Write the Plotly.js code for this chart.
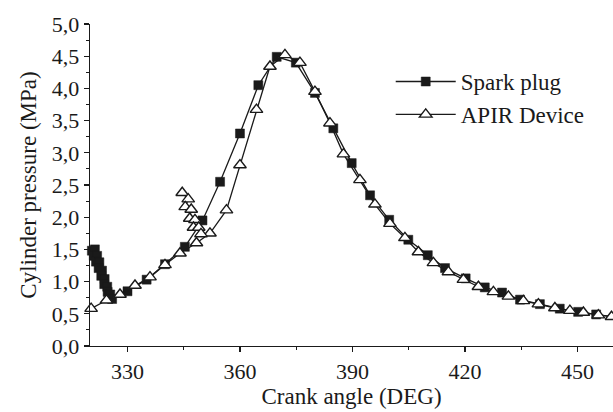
<!DOCTYPE html>
<html><head><meta charset="utf-8">
<script src="https://cdn.plot.ly/plotly-3.0.1.min.js"></script>
<style>html,body{margin:0;padding:0;background:#fff}</style>
</head><body><div id="chart" style="width:613px;height:412px"></div>
<script>
// Crank angle (deg) and cylinder pressure (MPa)
const sparkAngle = [320.5, 321.3, 321.0, 321.9, 321.6, 322.5, 322.3, 323.2, 323.0, 323.9, 323.8,
  324.6, 324.7, 325.4, 325.9,
  330, 335.1, 340, 345.3, 350, 354.7, 360, 364.9, 369.8, 374.9, 380, 384.9, 389.8,
  394.7, 399.8, 404.9, 410.1, 414.7, 420.2, 425.3, 429.9, 434.7, 440, 445.3, 450.2, 455, 459.8];
const sparkPressure = [1.48, 1.50, 1.40, 1.40, 1.31, 1.30, 1.21, 1.17, 1.09, 1.04, 0.96,
  0.92, 0.84, 0.80, 0.73,
  0.85, 1.03, 1.27, 1.54, 1.95, 2.55, 3.30, 4.05, 4.49, 4.40, 3.93, 3.38, 2.84,
  2.34, 1.96, 1.65, 1.41, 1.21, 1.05, 0.91, 0.83, 0.72, 0.65, 0.58, 0.53, 0.49, 0.45];

const apirAngle = [320.3, 324.4, 328.0, 332, 336, 340, 344,
  348.4, 352, 356.4, 360, 364.4, 368, 372, 376, 380, 384, 387.6, 392, 396, 400,
  404, 407.6, 411.6, 415.6, 419.6, 423.6, 427.6, 431.6, 435.6, 439.6, 444, 448,
  451.6, 455.6, 459.1];
const apirPressure = [0.58, 0.71, 0.80, 0.94, 1.07, 1.26, 1.44,
  1.60, 1.75, 2.11, 2.81, 3.67, 4.34, 4.52, 4.40, 3.95, 3.46, 2.98, 2.58, 2.20, 1.90,
  1.68, 1.46, 1.29, 1.15, 1.03, 0.92, 0.84, 0.77, 0.70, 0.65, 0.59, 0.55,
  0.52, 0.48, 0.455];

// APIR ignition disturbance near 345-350 deg
const apirSpikeAngle = [344.6, 346.2, 345.4, 347.0, 346.6, 348.0, 347.6, 349.0, 349.6];
const apirSpikePressure = [2.38, 2.28, 2.16, 2.12, 1.98, 1.96, 1.84, 1.84, 1.74];

const seriesNames = ['Spark plug', 'APIR Device'];
const xTitle = 'Crank angle (DEG)';
const yTitle = 'Cylinder pressure (MPa)';

const ink = '#1a1a1a';
const fontFam = '"Liberation Serif", "Times New Roman", serif';

const triMarker = {symbol: 'triangle-up', size: 11, color: '#ffffff', line: {color: ink, width: 1.4}};

const traces = [
  {
    x: sparkAngle, y: sparkPressure, name: seriesNames[0],
    type: 'scatter', mode: 'lines+markers', cliponaxis: false,
    line: {color: ink, width: 1.3},
    marker: {symbol: 'square', size: 9, color: ink, line: {color: ink, width: 0.5}}
  },
  {
    x: apirAngle, y: apirPressure, name: seriesNames[1],
    type: 'scatter', mode: 'lines+markers', cliponaxis: false,
    line: {color: ink, width: 1.3},
    marker: triMarker
  },
  {
    x: apirSpikeAngle, y: apirSpikePressure, name: seriesNames[1],
    type: 'scatter', mode: 'lines+markers', cliponaxis: false, showlegend: false,
    line: {color: ink, width: 1.3},
    marker: triMarker
  }
];

const layout = {
  width: 613, height: 412,
  margin: {l: 90, r: 0, t: 24, b: 66},
  paper_bgcolor: '#ffffff', plot_bgcolor: '#ffffff',
  separators: ', ',
  font: {family: fontFam, size: 22, color: ink},
  showlegend: true,
  legend: {
    x: 0.575, y: 0.888, xanchor: 'left', yanchor: 'top',
    bgcolor: 'rgba(0,0,0,0)', borderwidth: 0,
    font: {family: fontFam, size: 23, color: ink},
    itemwidth: 60, tracegroupgap: 0
  },
  xaxis: {
    range: [320, 459.5], showgrid: false, zeroline: false,
    showline: true, linecolor: ink, linewidth: 1.3, mirror: false,
    ticks: 'outside', ticklen: 5, tickwidth: 1.3, tickcolor: ink,
    tick0: 330, dtick: 30,
    minor: {ticks: 'outside', ticklen: 3, tickwidth: 1.1, tickcolor: ink, dtick: 15, tick0: 315},
    tickfont: {family: fontFam, size: 22, color: ink},
    title: {text: xTitle, font: {family: fontFam, size: 23, color: ink}, standoff: 0}
  },
  yaxis: {
    range: [0, 5], showgrid: false, zeroline: false,
    showline: true, linecolor: ink, linewidth: 1.3, mirror: false,
    ticks: 'outside', ticklen: 5, tickwidth: 1.3, tickcolor: ink,
    tick0: 0, dtick: 0.5, tickformat: '.1f',
    minor: {ticks: 'outside', ticklen: 3, tickwidth: 1.1, tickcolor: ink, dtick: 0.25},
    tickfont: {family: fontFam, size: 22, color: ink},
    title: {text: yTitle, font: {family: fontFam, size: 23, color: ink}, standoff: 8}
  }
};

Plotly.newPlot('chart', traces, layout, {displayModeBar: false, staticPlot: true});
</script></body></html>
